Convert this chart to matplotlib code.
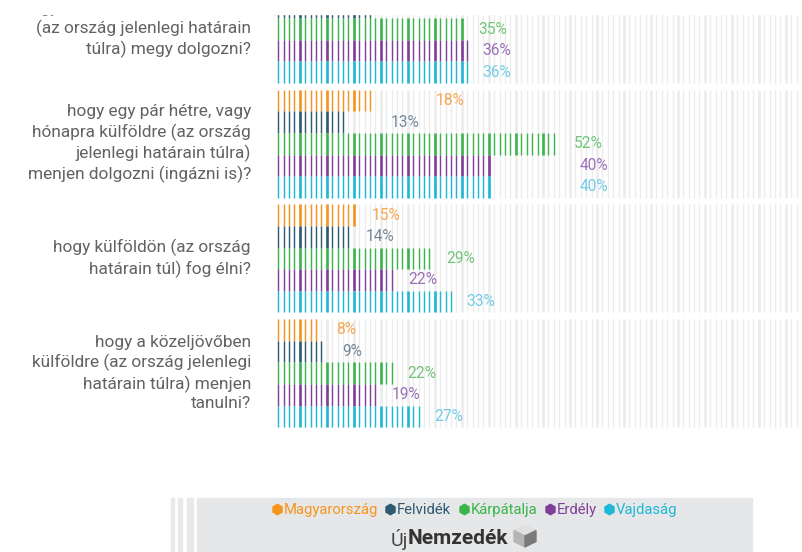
import matplotlib
matplotlib.use("Agg")
import matplotlib.pyplot as plt
from matplotlib.patches import Rectangle, Polygon
from matplotlib.lines import Line2D
import numpy as np

plt.rcParams['font.family'] = ['Roboto', 'DejaVu Sans']

# data
regions = ["Magyarország", "Felvidék", "Kárpátalja", "Erdély", "Vajdaság"]
questions = [
    "hogy hosszabb távra külföldre\n(az ország jelenlegi határain\ntúlra) megy dolgozni?",
    "hogy egy pár hétre, vagy\nhónapra külföldre (az ország\njelenlegi határain túlra)\nmenjen dolgozni (ingázni is)?",
    "hogy külföldön (az ország\nhatárain túl) fog élni?",
    "hogy a közeljövőben\nkülföldre (az ország jelenlegi\nhatárain túlra) menjen\ntanulni?",
]
q1_vals = [20, 18, 35, 36, 36]
q2_vals = [18, 13, 52, 40, 40]
q3_vals = [15, 14, 29, 22, 33]
q4_vals = [8, 9, 22, 19, 27]
values = [q1_vals, q2_vals, q3_vals, q4_vals]

bar_colors = ["#f7941d", "#2e5a72", "#39b54a", "#7f3f98", "#1db8d6"]
label_colors = ["#f9a54f", "#72889a", "#72c47a", "#9c70b6", "#72cce4"]
# extra label offset (px) as in the original picture
label_pad = [[10, 10, 11, 10, 10],
             [60, 42, 15, 85, 85],
             [12, 12, 11, 11, 10],
             [15, 15, 10, 11, 10]]

W, H = 802, 552
X0, STEP = 278.3, 5.4      # px of first stripe, px per 1 %
ROW, GSTEP, TOP = 21.6, 114.7 / 21.6, -25.0
CUT = 14                   # the top of the chart is cut off in the original

fig = plt.figure(figsize=(W / 100, H / 100), dpi=100)
ax = fig.add_axes([0, 0, 1, 1])
ax.axis("off")
ax.set_xlim(-X0 / STEP, (W - X0) / STEP)
ax.set_ylim((H - TOP) / ROW, -TOP / ROW)

idx = np.arange(100)
widths = np.where((idx + 1) % 5 == 0, 1.9, 1.0)

for g, vals in enumerate(values):
    gy = g * GSTEP
    ax.vlines(idx, gy, gy + 5, colors="#ececec", linewidth=widths, zorder=1)
    for r, v in enumerate(vals):
        ax.vlines(idx[:v], gy + r, gy + r + 1, colors=bar_colors[r],
                  linewidth=widths[:v], zorder=2)
        if TOP + (gy + r + 0.5) * ROW < CUT:
            continue  # label lies in the cut-off part
        ax.text(v + label_pad[g][r] / STEP, gy + r + 0.5, f"{v}%",
                color=label_colors[r], fontsize=11.2, va="center", ha="left")
    ax.text((251 - X0) / STEP, gy + 2.5, questions[g], ha="right", va="center",
            multialignment="right", fontsize=12.4, color="#626262",
            linespacing=1.3)

fig.add_artist(Rectangle((0, 1 - CUT / H), 1, CUT / H, transform=fig.transFigure,
                         color="white", zorder=10))

# legend / footer box
fig.add_artist(Rectangle((197 / W, 0), 555 / W, 54 / H, transform=fig.transFigure,
                         color="#e6e7e8", zorder=0))
for x, w in [(171, 2.5), (178, 4), (187, 6)]:
    fig.add_artist(Rectangle((x / W, 0), w / W, 54 / H, transform=fig.transFigure,
                             color="#e9e9e9", zorder=0))

handles = [Line2D([], [], marker="h", linestyle="none", markersize=7.5,
                  color=c) for c in bar_colors]
leg = fig.legend(handles, regions, loc="center", ncol=5, frameon=False,
                 bbox_to_anchor=(474 / W, 1 - 510 / H), fontsize=10.7,
                 handletextpad=0.05, columnspacing=0.45, handlelength=0.8,
                 borderpad=0)
for t, c in zip(leg.get_texts(), bar_colors):
    t.set_color(c)

fig.text(408 / W, 1 - 539 / H, "Új", ha="right", va="center", fontsize=14,
         color="#444444")
fig.text(408 / W, 1 - 539 / H, "Nemzedék", ha="left", va="center", fontsize=15,
         fontweight="bold", color="#333333")

# little cube logo
cx, cy, s = 525, 536, 11
faces = [
    ([(cx, cy - s), (cx + s, cy - s / 2), (cx, cy), (cx - s, cy - s / 2)], "#e0e0e0"),
    ([(cx - s, cy - s / 2), (cx, cy), (cx, cy + s), (cx - s, cy + s / 2)], "#b5b5b5"),
    ([(cx + s, cy - s / 2), (cx, cy), (cx, cy + s), (cx + s, cy + s / 2)], "#7a7a7a"),
]
for pts, col in faces:
    fig.add_artist(Polygon([(px / W, 1 - py / H) for px, py in pts], closed=True,
                           transform=fig.transFigure, color=col, zorder=3))

plt.savefig("out.png", dpi=100)
plt.close()
